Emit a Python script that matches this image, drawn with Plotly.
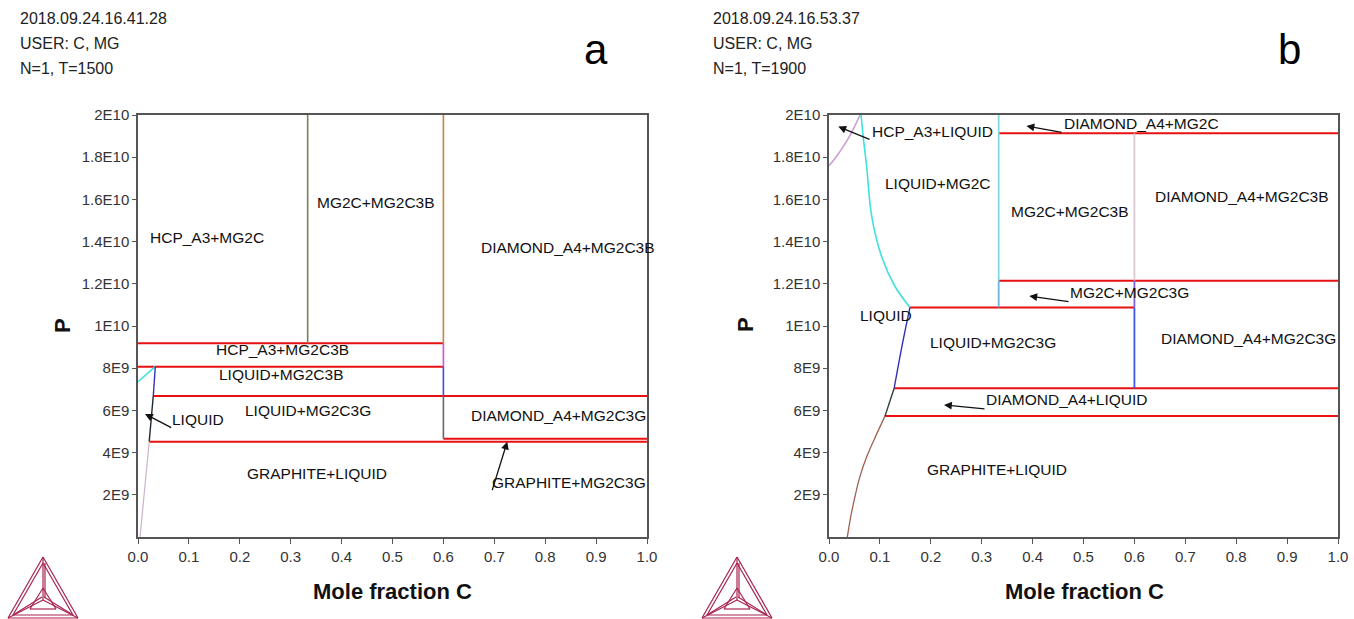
import plotly.graph_objects as go

W, H = 1354, 619

# ---------------- data ----------------
x_tick_vals = [0.0, 0.1, 0.2, 0.3, 0.4, 0.5, 0.6, 0.7, 0.8, 0.9, 1.0]
x_tick_text = ["0.0", "0.1", "0.2", "0.3", "0.4", "0.5", "0.6", "0.7", "0.8", "0.9", "1.0"]
p_tick_vals = [2e9, 4e9, 6e9, 8e9, 1e10, 1.2e10, 1.4e10, 1.6e10, 1.8e10, 2e10]
p_tick_text = ["2E9", "4E9", "6E9", "8E9", "1E10", "1.2E10", "1.4E10", "1.6E10", "1.8E10", "2E10"]

# Panel a (T=1500): horizontal three-phase (tie) lines
a_tie_x0 = [0.0, 0.0, 0.030, 0.022, 0.6]
a_tie_x1 = [0.6, 0.6, 1.0, 1.0, 1.0]
a_tie_p = [9.18e9, 8.07e9, 6.68e9, 4.52e9, 4.66e9]

# Panel a: vertical compound lines
a_vert_x = [1/3, 0.6, 0.6, 0.6, 0.6]
a_vert_p0 = [9.18e9, 9.18e9, 8.07e9, 6.68e9, 4.66e9]
a_vert_p1 = [2.0e10, 2.0e10, 9.18e9, 8.07e9, 6.68e9]
a_vert_color = ["#7d7d58", "#c8843c", "#d050e0", "#4848e8", "#666666"]

# Panel a: liquid boundary curves
a_cyan_x = [0.0, 0.034]
a_cyan_p = [7.36e9, 8.07e9]
a_blue_x = [0.034, 0.030]
a_blue_p = [8.07e9, 6.68e9]
a_dark_x = [0.030, 0.022]
a_dark_p = [6.68e9, 4.52e9]
a_grey_x = [0.022, 0.016, 0.010, 0.004]
a_grey_p = [4.52e9, 3.0e9, 1.5e9, 0.0]

# Panel a: phase-field labels
a_lab_text = ["HCP_A3+MG2C", "MG2C+MG2C3B", "DIAMOND_A4+MG2C3B", "HCP_A3+MG2C3B",
              "LIQUID+MG2C3B", "LIQUID+MG2C3G", "GRAPHITE+LIQUID", "DIAMOND_A4+MG2C3G",
              "GRAPHITE+MG2C3G", "LIQUID"]
a_lab_x = [0.135, 0.467, 0.845, 0.284, 0.281, 0.333, 0.351, 0.826, 0.847, 0.1185]
a_lab_p = [14.18e9, 15.86e9, 13.7e9, 8.9e9, 7.68e9, 5.99e9, 2.99e9, 5.75e9, 2.56e9, 5.59e9]

# Panel a: arrows (tail -> head)
a_arr_tx = [0.0682, 0.695]
a_arr_tp = [5.15e9, 2.15e9]
a_arr_hx = [0.0138, 0.7255]
a_arr_hp = [5.83e9, 4.52e9]

# Panel b (T=1900): horizontal tie lines
b_tie_x0 = [1/3, 1/3, 0.159, 0.128, 0.110]
b_tie_x1 = [1.0, 1.0, 0.6, 1.0, 1.0]
b_tie_p = [19.13e9, 12.15e9, 10.88e9, 7.05e9, 5.73e9]

# Panel b: vertical compound lines
b_vert_x = [1/3, 1/3, 0.6, 0.6, 0.6]
b_vert_p0 = [12.15e9, 10.88e9, 12.15e9, 10.88e9, 7.05e9]
b_vert_p1 = [2.0e10, 12.15e9, 19.13e9, 12.15e9, 10.88e9]
b_vert_color = ["#80d8e0", "#6cb4d8", "#dcc8d0", "#8060e0", "#3a58f0"]

# Panel b: boundary curves
b_lilac_x = [0.0, 0.012, 0.028, 0.045, 0.061]
b_lilac_p = [17.6e9, 17.95e9, 18.5e9, 19.2e9, 20.0e9]
b_cyan_x = [0.063, 0.068, 0.074, 0.084, 0.1035, 0.130, 0.159]
b_cyan_p = [20.0e9, 18.8e9, 17.55e9, 15.18e9, 13.28e9, 11.86e9, 10.88e9]
b_blue_x = [0.159, 0.143, 0.128]
b_blue_p = [10.88e9, 9.0e9, 7.05e9]
b_dark_x = [0.128, 0.110]
b_dark_p = [7.05e9, 5.73e9]
b_brown_x = [0.110, 0.094, 0.074, 0.060, 0.051, 0.043, 0.036]
b_brown_p = [5.73e9, 4.9e9, 3.8e9, 2.8e9, 1.91e9, 1.0e9, 0.0]

# Panel b: labels
b_lab_text = ["HCP_A3+LIQUID", "LIQUID+MG2C", "MG2C+MG2C3B", "DIAMOND_A4+MG2C",
              "DIAMOND_A4+MG2C3B", "MG2C+MG2C3G", "LIQUID", "LIQUID+MG2C3G",
              "DIAMOND_A4+MG2C3G", "DIAMOND_A4+LIQUID", "GRAPHITE+LIQUID"]
b_lab_x = [0.203, 0.2148, 0.4735, 0.613, 0.811, 0.591, 0.112, 0.3216, 0.824, 0.467, 0.331]
b_lab_p = [19.24e9, 16.76e9, 15.42e9, 19.6e9, 16.13e9, 11.58e9, 10.52e9, 9.23e9, 9.42e9, 6.54e9, 3.21e9]

# Panel b: arrows (tail -> head)
b_arr_tx = [0.0825, 0.460, 0.4735, 0.3084]
b_arr_tp = [18.82e9, 19.16e9, 11.15e9, 6.07e9]
b_arr_hx = [0.0183, 0.388, 0.3936, 0.226]
b_arr_hp = [19.45e9, 19.48e9, 11.42e9, 6.26e9]

headers_a = ["2018.09.24.16.41.28", "USER: C, MG", "N=1, T=1500"]
headers_b = ["2018.09.24.16.53.37", "USER: C, MG", "N=1, T=1900"]

# ---------------- figure ----------------
FONT = "Liberation Sans, Arial, sans-serif"
RED = "#e81010"

fig = go.Figure()


def line(xs, ps, color, width, ax, shape="linear"):
    xa, ya = ("x", "y") if ax == 1 else ("x2", "y2")
    fig.add_trace(go.Scatter(x=xs, y=ps, mode="lines", xaxis=xa, yaxis=ya,
                             line=dict(color=color, width=width, shape=shape),
                             showlegend=False, hoverinfo="skip", cliponaxis=True))


# panel a
for x0, x1, p in zip(a_tie_x0, a_tie_x1, a_tie_p):
    line([x0, x1], [p, p], RED, 2, 1)
for x, p0, p1, c in zip(a_vert_x, a_vert_p0, a_vert_p1, a_vert_color):
    line([x, x], [p0, p1], c, 1.6, 1)
line(a_cyan_x, a_cyan_p, "#40e0e0", 1.6, 1)
line(a_blue_x, a_blue_p, "#3030c8", 1.4, 1)
line(a_dark_x, a_dark_p, "#202830", 1.4, 1)
line(a_grey_x, a_grey_p, "#c8b4c8", 1.2, 1, "spline")

# panel b
for x0, x1, p in zip(b_tie_x0, b_tie_x1, b_tie_p):
    line([x0, x1], [p, p], RED, 2, 2)
for x, p0, p1, c in zip(b_vert_x, b_vert_p0, b_vert_p1, b_vert_color):
    line([x, x], [p0, p1], c, 1.8, 2)
line(b_lilac_x, b_lilac_p, "#c8a0d0", 1.6, 2, "spline")
line(b_cyan_x, b_cyan_p, "#40e0e0", 1.6, 2, "spline")
line(b_blue_x, b_blue_p, "#3030b8", 1.4, 2, "spline")
line(b_dark_x, b_dark_p, "#2a4034", 1.4, 2)
line(b_brown_x, b_brown_p, "#a06050", 1.3, 2, "spline")

LAB = dict(family=FONT, size=15.5, color="#111")
ann = []
for t, x, p in zip(a_lab_text, a_lab_x, a_lab_p):
    ann.append(dict(text=t, x=x, y=p, xref="x", yref="y", showarrow=False, font=LAB))
for t, x, p in zip(b_lab_text, b_lab_x, b_lab_p):
    ann.append(dict(text=t, x=x, y=p, xref="x2", yref="y2", showarrow=False, font=LAB))
for tx, tp, hx, hp in zip(a_arr_tx, a_arr_tp, a_arr_hx, a_arr_hp):
    ann.append(dict(text="", x=hx, y=hp, ax=tx, ay=tp, xref="x", yref="y",
                    axref="x", ayref="y", showarrow=True, arrowhead=2,
                    arrowsize=1.2, arrowwidth=1.3, arrowcolor="#111"))
for tx, tp, hx, hp in zip(b_arr_tx, b_arr_tp, b_arr_hx, b_arr_hp):
    ann.append(dict(text="", x=hx, y=hp, ax=tx, ay=tp, xref="x2", yref="y2",
                    axref="x2", ayref="y2", showarrow=True, arrowhead=2,
                    arrowsize=1.2, arrowwidth=1.3, arrowcolor="#111"))


def px(xp):
    return xp / W


def py(yp):
    return 1 - yp / H


# headers
for off, hdr in ((18, headers_a), (711, headers_b)):
    for i, t in enumerate(hdr):
        ann.append(dict(text=t, x=px(off), y=py(18 + 25.5 * i), xref="paper", yref="paper",
                        xanchor="left", yanchor="middle", showarrow=False,
                        font=dict(family=FONT, size=16, color="#222")))
# panel letters
for t, xx in (("a", 596), ("b", 1289)):
    ann.append(dict(text=t, x=px(xx), y=py(50), xref="paper", yref="paper",
                    xanchor="center", yanchor="middle", showarrow=False,
                    font=dict(family=FONT, size=42, color="#000")))
# axis titles
for cx in (392, 1084):
    ann.append(dict(text="<b>Mole fraction C</b>", x=px(cx), y=py(591), xref="paper", yref="paper",
                    xanchor="center", yanchor="middle", showarrow=False,
                    font=dict(family=FONT, size=22, color="#111")))
for cx in (62, 745):
    ann.append(dict(text="<b>P</b>", x=px(cx), y=py(325), xref="paper", yref="paper",
                    xanchor="center", yanchor="middle", showarrow=False, textangle=-90,
                    font=dict(family=FONT, size=22, color="#111")))

# Thermo-Calc style logo (decorative)
shapes = []
logo_segments = [
    ((43, 557), (8, 618)), ((43, 557), (78, 618)), ((8, 618), (78, 618)),
    ((43, 563), (13, 615)), ((43, 563), (73, 615)), ((13, 615), (73, 615)),
    ((43, 557), (43, 600)), ((45, 563), (45, 598)),
    ((8, 618), (43, 600)), ((13, 615), (42, 597)),
    ((78, 618), (43, 600)), ((73, 615), (44, 597)),
    ((43, 588), (30, 609)), ((43, 588), (56, 609)), ((30, 609), (56, 609)),
]
for off in (0, 694):
    for (x0, y0), (x1, y1) in logo_segments:
        shapes.append(dict(type="line", xref="paper", yref="paper",
                           x0=px(x0 + off), y0=py(y0), x1=px(x1 + off), y1=py(y1),
                           line=dict(color="#a8234f", width=1.2)))

xdom_a = [px(138), px(647)]
xdom_b = [px(829), px(1338)]
ydom = [py(537), py(115)]

axis_common = dict(showgrid=False, zeroline=False, showline=True, linecolor="#555",
                   linewidth=1.5, mirror=True, ticks="outside", ticklen=5, tickwidth=1,
                   tickcolor="#555", automargin=False,
                   tickfont=dict(family=FONT, size=15, color="#333"))
xax = dict(axis_common, range=[0, 1], tickvals=x_tick_vals, ticktext=x_tick_text)
yax = dict(axis_common, range=[0, 2e10], tickvals=p_tick_vals, ticktext=p_tick_text, ticklen=4)

fig.update_layout(
    template="none",
    width=W, height=H, autosize=False, margin=dict(l=0, r=0, t=0, b=0, pad=0),
    paper_bgcolor="white", plot_bgcolor="white",
    xaxis=dict(xax, domain=xdom_a, anchor="y"),
    yaxis=dict(yax, domain=ydom, anchor="x"),
    xaxis2=dict(xax, domain=xdom_b, anchor="y2"),
    yaxis2=dict(yax, domain=ydom, anchor="x2"),
    annotations=ann, shapes=shapes,
)

fig.write_html("out.html", config={"displayModeBar": False},
               post_script="document.body.style.margin='0';document.body.style.overflow='hidden';")
